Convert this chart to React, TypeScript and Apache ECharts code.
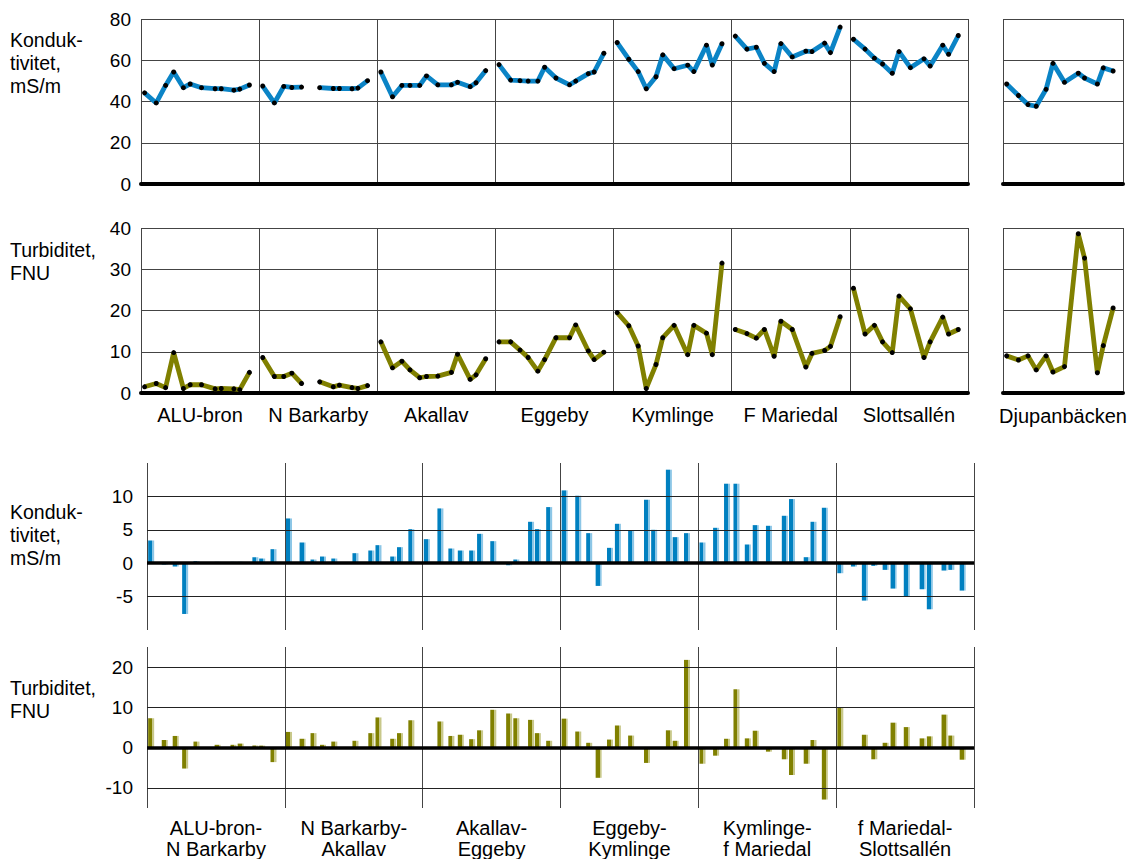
import React, { useEffect, useRef } from 'react';
import * as echarts from 'echarts';

// Sampling days within each year-long section (shared by all stations)
const sampleDays = [11, 47, 76, 101, 131, 152, 187, 229, 248, 287, 305, 335];
const YEAR = 365;

const stations = ['ALU-bron', 'N Barkarby', 'Akallav', 'Eggeby', 'Kymlinge', 'F Mariedal', 'Slottsallén'];
const djupName = 'Djupanbäcken';
const reaches = [
  'ALU-bron-\nN Barkarby',
  'N Barkarby-\nAkallav',
  'Akallav-\nEggeby',
  'Eggeby-\nKymlinge',
  'Kymlinge-\nf Mariedal',
  'f Mariedal-\nSlottsallén',
];

// Konduktivitet, mS/m
const condAlu = [44.2, 39.3, 47.8, 54.3, 46.7, 48.5, 46.7, 46.2, 46.2, 45.5, 46.0, 48.0];
const condNBarkarby = [47.5, 39.3, 47.3, 46.8, 47.0, null, 46.7, 46.3, 46.3, 46.2, 46.5, 50.1];
const condAkallav = [54.3, 42.3, 47.8, 47.8, 47.8, 52.4, 48.1, 48.1, 49.3, 47.2, 49.1, 55.0];
const condEggeby = [57.9, 50.4, 50.1, 49.9, 49.9, 56.6, 51.4, 48.1, 49.9, 53.5, 54.3, 63.4];
const condKymlinge = [68.6, 60.5, 54.5, 46.2, 52.0, 62.6, 55.9, 57.6, 54.5, 67.3, 57.7, 68.0];
const condFMariedal = [71.7, 65.4, 66.3, 58.5, 54.5, 68.1, 61.6, 64.4, 64.2, 68.3, 63.7, 76.1];
const condSlottsallen = [70.2, 65.4, 61.0, 58.2, 53.7, 64.2, 56.4, 60.7, 57.2, 67.3, 62.9, 72.0];
const condDjup = [48.5, 42.9, 38.5, 37.7, 45.9, 58.5, 49.3, 53.7, 51.4, 48.5, 56.3, 54.8];

// Turbiditet, FNU
const turbAlu = [1.5, 2.3, 1.3, 9.8, 1.1, 2.0, 2.0, 1.0, 1.1, 1.0, 0.8, 5.0];
const turbNBarkarby = [8.6, 4.0, 4.0, 4.8, 2.3, null, 2.7, 1.5, 1.9, 1.3, 1.1, 1.8];
const turbAkallav = [12.4, 6.1, 7.7, 5.6, 3.7, 4.0, 4.1, 5.0, 9.4, 3.3, 4.4, 8.3];
const turbEggeby = [12.4, 12.4, 10.4, 8.6, 5.3, 8.1, 13.4, 13.4, 16.5, 10.2, 8.1, 9.9];
const turbKymlinge = [19.5, 16.3, 11.4, 1.1, 6.9, 13.4, 16.4, 9.3, 16.4, 14.5, 9.3, 31.5];
const turbFMariedal = [15.4, 14.4, 13.3, 15.4, 8.9, 17.4, 15.4, 6.3, 9.6, 10.3, 11.3, 18.5];
const turbSlottsallen = [25.4, 14.3, 16.4, 12.4, 9.8, 23.5, 20.4, 8.6, 12.4, 18.4, 14.3, 15.4];
const turbDjup = [9.0, 8.0, 9.0, 5.6, 9.0, 5.1, 6.4, 38.6, 32.7, 4.9, 11.5, 20.6];

// Change between consecutive stations
const condDiffAluNB = [3.4, -0.2, -0.5, -7.6, 0.3, null, 0.2, 0.2, 0.2, 0.9, 0.7, 2.1];
const condDiffNBAk = [6.7, 3.1, 0.55, 1.0, 0.7, null, 1.5, 1.9, 2.7, 1.0, 2.4, 5.1];
const condDiffAkEgg = [3.6, 8.2, 2.2, 1.9, 1.9, 4.4, 3.3, -0.3, 0.55, 6.2, 5.1, 8.4];
const condDiffEggKym = [10.9, 10.1, 4.5, -3.4, 2.3, 5.9, 4.9, 9.5, 5.0, 14.0, 3.9, 4.5];
const condDiffKymFM = [3.1, 5.3, 11.9, 11.9, 2.8, 5.7, 5.6, 7.1, 9.6, 0.9, 6.2, 8.3];
const condDiffFMSl = [-1.5, -0.5, -5.6, -0.4, -1.0, -3.8, -5.0, -3.9, -6.9, -1.1, -1.0, -4.1];

const turbDiffAluNB = [7.3, 1.9, 2.9, -5.2, 1.5, null, 0.7, 0.7, 1.0, 0.5, 0.5, -3.6];
const turbDiffNBAk = [3.9, 2.2, 3.6, 0.7, 1.5, null, 1.7, 3.6, 7.5, 2.2, 3.6, 6.8];
const turbDiffAkEgg = [0.1, 6.5, 2.9, 3.2, 2.1, 4.3, 9.4, 8.5, 7.3, 6.9, 3.6, 1.7];
const turbDiffEggKym = [7.2, 4.0, 1.2, -7.5, 2.0, 5.5, 3.0, -3.8, -0.1, 4.3, 1.7, 21.8];
const turbDiffKymFM = [-4.0, -2.0, 2.2, 14.5, 2.3, 4.2, -1.0, -2.9, -6.8, -4.0, 1.9, -12.9];
const turbDiffFMSl = [10.0, -0.1, 3.2, -2.9, 1.2, 6.2, 5.1, 2.3, 2.8, 8.2, 3.0, -3.0];

const condGridTicks = [-5, 5, 10];
const turbGridTicks = [-10, 10, 20];

const condStations = [condAlu, condNBarkarby, condAkallav, condEggeby, condKymlinge, condFMariedal, condSlottsallen];
const turbStations = [turbAlu, turbNBarkarby, turbAkallav, turbEggeby, turbKymlinge, turbFMariedal, turbSlottsallen];
const condReaches = [condDiffAluNB, condDiffNBAk, condDiffAkEgg, condDiffEggKym, condDiffKymFM, condDiffFMSl];
const turbReaches = [turbDiffAluNB, turbDiffNBAk, turbDiffAkEgg, turbDiffEggKym, turbDiffKymFM, turbDiffFMSl];

const BLUE = '#0B84C6';
const OLIVE = '#808000';
const FONT = "'Liberation Sans', Arial, sans-serif";

function lineSeries(sets: (number | null)[][], xAxisIndex: number, yAxisIndex: number, color: string) {
  return sets.map((vals, s) => ({
    type: 'line',
    xAxisIndex,
    yAxisIndex,
    data: vals.map((v, i) => [s * YEAR + sampleDays[i], v === null ? '-' : v]),
    symbol: 'circle',
    symbolSize: 5,
    showSymbol: true,
    connectNulls: false,
    itemStyle: { color: '#000' },
    lineStyle: { color, width: 4.8 },
    z: 3,
  }));
}

function barSeries(sets: (number | null)[][], xAxisIndex: number, yAxisIndex: number, dark: string, light: string, ticks: number[]) {
  const data: any[] = [];
  sets.forEach((vals, s) => vals.forEach((v, i) => data.push([s * YEAR + sampleDays[i], v === null ? '-' : v])));
  return {
    type: 'bar',
    xAxisIndex,
    yAxisIndex,
    data,
    barWidth: 6,
    itemStyle: {
      color: new echarts.graphic.LinearGradient(0, 0, 1, 0, [
        { offset: 0, color: dark },
        { offset: 0.66, color: dark },
        { offset: 0.66, color: light },
        { offset: 1, color: light },
      ]),
    },
    z: 3,
    markLine: {
      silent: true,
      symbol: ['none', 'none'],
      label: { show: false },
      data: [
        ...ticks.map((t) => ({ yAxis: t, lineStyle: { color: '#222', width: 1, type: 'solid' } })),
        { yAxis: 0, lineStyle: { color: '#000', width: 3.5, type: 'solid' } },
      ],
    },
  };
}

const gridLine = { show: true, lineStyle: { color: '#444', width: 1 } };

function valueX(gridIndex: number, sections: number, thickBase: boolean) {
  return {
    type: 'value',
    gridIndex,
    position: 'bottom',
    min: 0,
    max: sections * YEAR,
    interval: YEAR,
    axisLabel: { show: false },
    axisTick: { show: false },
    axisLine: thickBase
      ? { show: true, onZero: false, lineStyle: { color: '#000', width: 4 } }
      : { show: false },
    splitLine: { show: true, lineStyle: { color: '#444', width: 1 } },
  };
}

function labelX(gridIndex: number, names: string[], margin: number) {
  return {
    type: 'category',
    gridIndex,
    position: 'bottom',
    data: names,
    boundaryGap: true,
    axisLine: { show: false },
    axisTick: { show: false },
    splitLine: { show: false },
    axisLabel: { color: '#000', fontSize: 20, fontFamily: FONT, margin, lineHeight: 21, interval: 0 },
  };
}

function valueY(gridIndex: number, min: number, max: number, interval: number, showLabels: boolean, margin: number, formatter?: (v: number) => string, split = true) {
  return {
    type: 'value',
    gridIndex,
    min,
    max,
    interval,
    axisLine: { show: false },
    axisTick: { show: false },
    splitLine: split ? gridLine : { show: false },
    axisLabel: {
      show: showLabels,
      color: '#000',
      fontSize: 19,
      fontFamily: FONT,
      margin,
      formatter: formatter,
    },
  };
}

export default function App() {
  const ref = useRef<HTMLDivElement>(null);
  useEffect(() => {
    document.body.style.margin = '0';
    const chart = echarts.init(ref.current!, null, { renderer: 'svg' });
    const titleStyle = { fill: '#000', fontSize: 19.5, fontFamily: FONT, lineHeight: 23 };
    const option: any = {
      animation: false,
      backgroundColor: '#fff',
      textStyle: { fontFamily: FONT },
      grid: [
        { left: 141, top: 19, width: 827, height: 165 },
        { left: 1003, top: 19, width: 120, height: 165 },
        { left: 141, top: 228, width: 827, height: 165 },
        { left: 1003, top: 228, width: 120, height: 165 },
        { left: 147, top: 463, width: 827, height: 167 },
        { left: 147, top: 647, width: 827, height: 165 },
      ],
      xAxis: [
        valueX(0, 7, true),
        valueX(1, 1, true),
        valueX(2, 7, true),
        valueX(3, 1, true),
        labelX(2, stations, 11),
        labelX(3, [djupName], 12),
        valueX(4, 6, false),
        valueX(5, 6, false),
        labelX(5, reaches, 9),
      ],
      yAxis: [
        valueY(0, 0, 80, 20, true, 10),
        valueY(1, 0, 80, 20, false, 10),
        valueY(2, 0, 40, 10, true, 10),
        valueY(3, 0, 40, 10, false, 10),
        valueY(4, -10, 15, 5, true, 14, (v: number) => (v === -10 || v === 15 ? '' : String(v)), false),
        valueY(5, -15, 25, 5, true, 14, (v: number) => (v % 10 === 0 ? String(v) : ''), false),
      ],
      series: [
        ...lineSeries(condStations, 0, 0, BLUE),
        ...lineSeries([condDjup], 1, 1, BLUE),
        ...lineSeries(turbStations, 2, 2, OLIVE),
        ...lineSeries([turbDjup], 3, 3, OLIVE),
        barSeries(condReaches, 6, 4, '#0080C0', '#8CC6E6', condGridTicks),
        barSeries(turbReaches, 7, 5, '#808000', '#C8C88A', turbGridTicks),
      ],
      graphic: [
        { type: 'text', left: 10, top: 28, style: { ...titleStyle, text: 'Konduk-\ntivitet,\nmS/m' } },
        { type: 'text', left: 10, top: 238, style: { ...titleStyle, text: 'Turbiditet,\nFNU' } },
        { type: 'text', left: 10, top: 500, style: { ...titleStyle, text: 'Konduk-\ntivitet,\nmS/m' } },
        { type: 'text', left: 10, top: 676, style: { ...titleStyle, text: 'Turbiditet,\nFNU' } },
      ],
    };
    chart.setOption(option);
    return () => chart.dispose();
  }, []);
  return <div ref={ref} style={{ width: 1131, height: 859 }} />;
}
